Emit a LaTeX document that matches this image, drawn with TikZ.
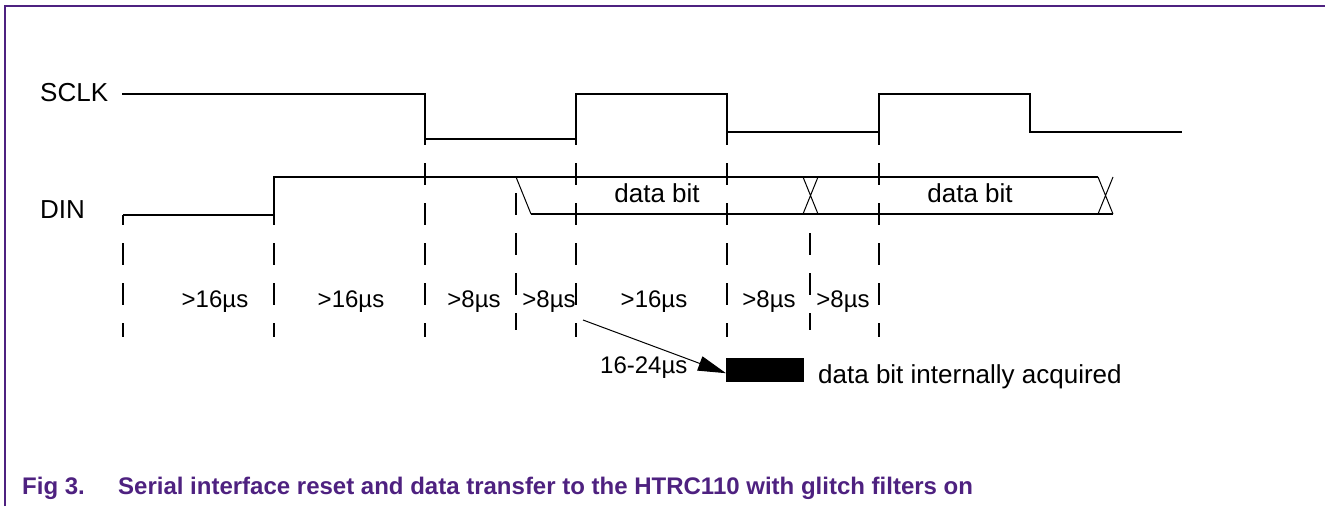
\documentclass[tikz,border=0pt]{standalone}
\usepackage{fontspec}
\setmainfont{Liberation Sans}
\usetikzlibrary{arrows.meta}
\definecolor{nxppurple}{RGB}{78,33,128}
\begin{document}
\begin{tikzpicture}[x=1pt,y=-1pt,
  sig/.style={line width=2pt, line join=miter},
  thinline/.style={line width=1pt},
  gridline/.style={line width=2pt, dash pattern=on 22pt off 18pt},
  lbl/.style={inner sep=0pt, font=\fontsize{26}{30}\selectfont},
  tlbl/.style={inner sep=0pt, anchor=base, font=\fontsize{24}{28}\selectfont},
  captionstyle/.style={inner sep=0pt, anchor=base west, text=nxppurple, font=\fontsize{24}{28}\selectfont\bfseries}]
\useasboundingbox (0,0) rectangle (1325,506);
% frame
\draw[nxppurple, line width=1.2pt] (5,506) -- (5,6) -- (1325,6);
% labels
\node[lbl, anchor=base west] (sclk) at (40,101) {SCLK};
\node[lbl, anchor=base west] (din) at (40,218) {DIN};
% SCLK waveform
\draw[sig] (122,94) -- (425,94) -- (425,139) -- (576,139) -- (576,94) -- (727,94) -- (727,132) -- (879,132) -- (879,94) -- (1030,94) -- (1030,132) -- (1182,132);
% DIN waveform
\draw[sig] (123,215) -- (274,215) -- (274,177) -- (1098,177);
\draw[thinline] (516,177) -- (531,214);
\draw[sig] (531,214) -- (1113,214);
\draw[thinline] (803,177) -- (818,214) (803,214) -- (818,177);
\draw[thinline] (1098,177) -- (1113,214) (1098,214) -- (1113,177);
% dashed timing lines
\draw[gridline, dash phase=12pt] (123,215) -- (123,337);
\draw[gridline, dash phase=12pt] (274,215) -- (274,337);
\draw[gridline, dash phase=16pt] (425,139) -- (425,337);
\draw[gridline, dash phase=24pt] (516,177) -- (516,330);
\draw[gridline, dash phase=16pt] (576,139) -- (576,337);
\draw[gridline, dash phase=9pt] (727,132) -- (727,337);
\draw[gridline, dash phase=21pt] (810,214) -- (810,330);
\draw[gridline, dash phase=9pt] (879,132) -- (879,337);
% data bit labels
\node[lbl, anchor=base] (db1) at (657,202) {data bit};
\node[lbl, anchor=base] (db2) at (970,202) {data bit};
% timing labels
\node[tlbl] (t1) at (215,307) {>16µs};
\node[tlbl] (t2) at (351,307) {>16µs};
\node[tlbl] (t3) at (474,307) {>8µs};
\node[tlbl] (t4) at (549,307) {>8µs};
\node[tlbl] (t5) at (654,307) {>16µs};
\node[tlbl] (t6) at (769,307) {>8µs};
\node[tlbl] (t7) at (843,307) {>8µs};
% acquisition
\node[fill=black, minimum width=78pt, minimum height=24pt, inner sep=0pt, anchor=north west] (acq) at (726,358) {};
\node[lbl, anchor=base west] (acqtxt) at (818,383) {data bit internally acquired};
\node[tlbl, anchor=base west] (delay) at (600,373) {16-24µs};
\coordinate (arrS) at (583,320);
\draw[line width=1pt, -{Triangle[length=28pt,width=15pt]}] (arrS) -- ([yshift=-3pt]acq.west);
% caption
\node[captionstyle] (fig) at (22,494) {Fig 3.};
\node[captionstyle] (captxt) at (118,494) {Serial interface reset and data transfer to the HTRC110 with glitch filters on};
\end{tikzpicture}
\end{document}
